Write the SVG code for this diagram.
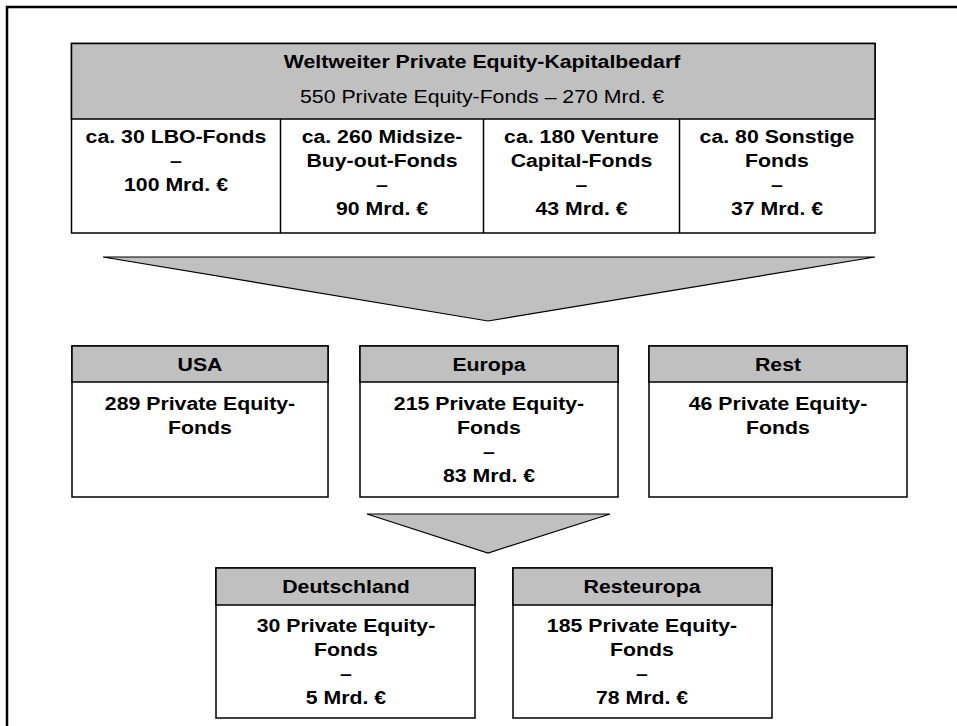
<svg xmlns="http://www.w3.org/2000/svg" width="957" height="726" viewBox="0 0 957 726">
  <style>
    .b { font-family: "Liberation Sans", Arial, sans-serif; font-weight: bold; font-size: 18.5px; text-anchor: middle; fill: #000; }
    .r { font-family: "Liberation Sans", Arial, sans-serif; font-weight: normal; font-size: 18.5px; text-anchor: middle; fill: #000; }
    .box { fill: #fff; stroke: #000; stroke-width: 1.5; }
    .hdr { fill: #c0c0c0; stroke: #000; stroke-width: 1.5; }
    .ln { stroke: #000; stroke-width: 1.5; fill: none; }
    .fun { fill: #c0c0c0; stroke: #000; stroke-width: 1.2; stroke-linejoin: miter; }
  </style>
  <rect x="0" y="0" width="957" height="726" fill="#fff"/>
  <path d="M7,726 V7 H957" fill="none" stroke="#000" stroke-width="2.5"/>

  <g id="connectors">
    <polygon class="fun" points="103,257 875,257 488,321"/>
    <polygon class="fun" points="367,514 610,514 488,553"/>
  </g>

  <g id="weltweit">
    <rect class="box" x="71.5" y="43.5" width="803.5" height="189.5"/>
    <rect class="hdr" x="71.5" y="43.5" width="803.5" height="75.5"/>
    <text class="b" transform="translate(482,67.5) scale(1.15,1)">Weltweiter Private Equity-Kapitalbedarf</text>
    <text class="r" transform="translate(482,103) scale(1.15,1)">550 Private Equity-Fonds – 270 Mrd. €</text>
    <line class="ln" x1="280.5" y1="119" x2="280.5" y2="233"/>
    <line class="ln" x1="483.5" y1="119" x2="483.5" y2="233"/>
    <line class="ln" x1="679.5" y1="119" x2="679.5" y2="233"/>
  </g>

  <g id="lbo">
    <text class="b" transform="translate(176,143) scale(1.15,1)">ca. 30 LBO-Fonds</text>
    <text class="b" transform="translate(176,167) scale(1.15,1)">–</text>
    <text class="b" transform="translate(176,191) scale(1.15,1)">100 Mrd. €</text>
  </g>
  <g id="midsize">
    <text class="b" transform="translate(382,143) scale(1.15,1)">ca. 260 Midsize-</text>
    <text class="b" transform="translate(382,167) scale(1.15,1)">Buy-out-Fonds</text>
    <text class="b" transform="translate(382,191) scale(1.15,1)">–</text>
    <text class="b" transform="translate(382,215) scale(1.15,1)">90 Mrd. €</text>
  </g>
  <g id="venture">
    <text class="b" transform="translate(581.5,143) scale(1.15,1)">ca. 180 Venture</text>
    <text class="b" transform="translate(581.5,167) scale(1.15,1)">Capital-Fonds</text>
    <text class="b" transform="translate(581.5,191) scale(1.15,1)">–</text>
    <text class="b" transform="translate(581.5,215) scale(1.15,1)">43 Mrd. €</text>
  </g>
  <g id="sonstige">
    <text class="b" transform="translate(777,143) scale(1.15,1)">ca. 80 Sonstige</text>
    <text class="b" transform="translate(777,167) scale(1.15,1)">Fonds</text>
    <text class="b" transform="translate(777,191) scale(1.15,1)">–</text>
    <text class="b" transform="translate(777,215) scale(1.15,1)">37 Mrd. €</text>
  </g>

  <g id="usa">
    <rect class="box" x="72" y="346" width="256" height="151"/>
    <rect class="hdr" x="72" y="346" width="256" height="36"/>
    <text class="b" transform="translate(200,371) scale(1.15,1)">USA</text>
    <text class="b" transform="translate(200,409.5) scale(1.15,1)">289 Private Equity-</text>
    <text class="b" transform="translate(200,433.5) scale(1.15,1)">Fonds</text>
  </g>
  <g id="europa">
    <rect class="box" x="360" y="346" width="258" height="151"/>
    <rect class="hdr" x="360" y="346" width="258" height="36"/>
    <text class="b" transform="translate(489,371) scale(1.15,1)">Europa</text>
    <text class="b" transform="translate(489,409.5) scale(1.15,1)">215 Private Equity-</text>
    <text class="b" transform="translate(489,433.5) scale(1.15,1)">Fonds</text>
    <text class="b" transform="translate(489,457.5) scale(1.15,1)">–</text>
    <text class="b" transform="translate(489,481.5) scale(1.15,1)">83 Mrd. €</text>
  </g>
  <g id="rest">
    <rect class="box" x="649" y="346" width="258" height="151"/>
    <rect class="hdr" x="649" y="346" width="258" height="36"/>
    <text class="b" transform="translate(778,371) scale(1.15,1)">Rest</text>
    <text class="b" transform="translate(778,409.5) scale(1.15,1)">46 Private Equity-</text>
    <text class="b" transform="translate(778,433.5) scale(1.15,1)">Fonds</text>
  </g>

  <g id="deutschland">
    <rect class="box" x="216" y="568" width="259" height="150"/>
    <rect class="hdr" x="216" y="568" width="259" height="37"/>
    <text class="b" transform="translate(346,593) scale(1.15,1)">Deutschland</text>
    <text class="b" transform="translate(346,632) scale(1.15,1)">30 Private Equity-</text>
    <text class="b" transform="translate(346,656) scale(1.15,1)">Fonds</text>
    <text class="b" transform="translate(346,680) scale(1.15,1)">–</text>
    <text class="b" transform="translate(346,704) scale(1.15,1)">5 Mrd. €</text>
  </g>
  <g id="resteuropa">
    <rect class="box" x="513" y="568" width="259" height="150"/>
    <rect class="hdr" x="513" y="568" width="259" height="37"/>
    <text class="b" transform="translate(642,593) scale(1.15,1)">Resteuropa</text>
    <text class="b" transform="translate(642,632) scale(1.15,1)">185 Private Equity-</text>
    <text class="b" transform="translate(642,656) scale(1.15,1)">Fonds</text>
    <text class="b" transform="translate(642,680) scale(1.15,1)">–</text>
    <text class="b" transform="translate(642,704) scale(1.15,1)">78 Mrd. €</text>
  </g>
</svg>
